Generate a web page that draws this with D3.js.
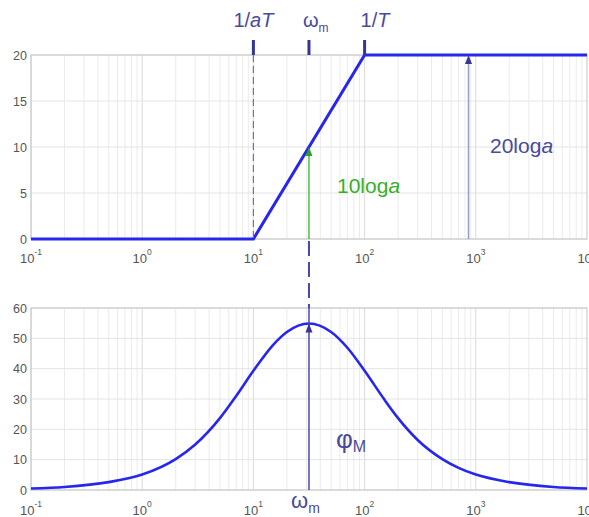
<!DOCTYPE html>
<html>
<head>
<meta charset="utf-8">
<script src="https://cdn.jsdelivr.net/npm/d3@7"></script>
<style>
  body { margin: 0; background: #fff; }
  svg { display: block; font-family: "Liberation Sans", Arial, sans-serif; }
</style>
</head>
<body>
<svg width="589" height="517"></svg>
<script>
// asymptotic magnitude of the lead network (dB)
var magFreq = [0.1, 10, 100, 10000];
var magDb   = [0, 0, 20, 20];

// phase curve (deg)
var phaseFreq = [0.1, 0.2, 0.5, 1, 2, 3, 5, 7, 10, 15, 20, 31.6, 50, 70, 100, 150, 200, 300, 500, 700, 1000, 2000, 5000, 10000];
var phaseDeg  = [0.5, 1.0, 2.6, 5.1, 10.2, 15.0, 23.7, 31.0, 39.3, 47.8, 52.1, 54.9, 52.1, 46.9, 39.3, 29.9, 23.7, 16.5, 10.2, 7.3, 5.1, 2.6, 1.0, 0.5];

var decades = [-1, 0, 1, 2, 3, 4];
var magTicks = [0, 5, 10, 15, 20];
var phaseTicks = [0, 10, 20, 30, 40, 50, 60];

// marked frequencies
var wLow = 10, wMax = 31.6, wHigh = 100, wArrow = 860;
var phaseMax = 54.9, halfGain = 10, fullGain = 20;

var svg = d3.select("svg");
var x = d3.scaleLog().domain([0.1, 10000]).range([31, 587]);
var yTop = d3.scaleLinear().domain([0, 20]).range([239, 55]);
var yBot = d3.scaleLinear().domain([0, 60]).range([490, 308]);

var blue = "#2626ec", navy = "#34349a", label = "#4a4a9c", green = "#36b02a";

function panel(y, ticks, labelY) {
  var g = svg.append("g");
  // minor + decade grid
  var minor = [];
  for (var d = -1; d < 4; d++)
    for (var k = 1; k < 10; k++) minor.push(k * Math.pow(10, d));
  g.selectAll(".vg").data(minor).enter().append("line")
    .attr("x1", function(v) { return x(v); }).attr("x2", function(v) { return x(v); })
    .attr("y1", y.range()[0]).attr("y2", y.range()[1])
    .attr("stroke", function(v, i) { return i % 9 == 0 ? "#dadada" : "#ebebeb"; })
    .attr("stroke-width", 1);
  g.selectAll(".hg").data(ticks).enter().append("line")
    .attr("x1", x.range()[0]).attr("x2", x.range()[1])
    .attr("y1", function(v) { return y(v); }).attr("y2", function(v) { return y(v); })
    .attr("stroke", "#e4e4e4");
  g.append("rect")
    .attr("x", x.range()[0]).attr("y", y.range()[1])
    .attr("width", x.range()[1] - x.range()[0]).attr("height", y.range()[0] - y.range()[1])
    .attr("fill", "none").attr("stroke", "#c4c4c4");
  // y labels
  g.selectAll(".yl").data(ticks).enter().append("text")
    .attr("x", 27).attr("y", function(v) { return y(v) + 4.5; })
    .attr("text-anchor", "end").attr("font-size", 12.5).attr("fill", "#555")
    .text(function(v) { return v; });
  // x labels 10^n
  var xl = g.selectAll(".xl").data(decades).enter().append("text")
    .attr("x", function(n) { return x(Math.pow(10, n)); })
    .attr("y", labelY).attr("text-anchor", "middle").attr("fill", "#555");
  xl.append("tspan").attr("font-size", 13).text("10");
  xl.append("tspan").attr("font-size", 8.5).attr("dy", -8)
    .text(function(n) { return n; });
  return g;
}

function arrowHead(px, py, color, w, h) {
  svg.append("path")
    .attr("d", "M" + px + "," + py + "L" + (px - w / 2) + "," + (py + h) + "L" + (px + w / 2) + "," + (py + h) + "Z")
    .attr("fill", color);
}

panel(yTop, magTicks, 263);
panel(yBot, phaseTicks, 515);

// magnitude asymptotes
svg.append("path")
  .datum(magFreq.map(function(f, i) { return [f, magDb[i]]; }))
  .attr("fill", "none").attr("stroke", blue).attr("stroke-width", 3)
  .attr("d", d3.line().x(function(d) { return x(d[0]); }).y(function(d) { return yTop(d[1]); }));

// dashed line at 1/aT
svg.append("line")
  .attr("x1", x(wLow)).attr("x2", x(wLow)).attr("y1", yTop(20)).attr("y2", yTop(0))
  .attr("stroke", "#6e6eb0").attr("stroke-width", 1.2).attr("stroke-dasharray", "7,4");

// corner marks above the top plot
[wLow, wMax, wHigh].forEach(function(f) {
  svg.append("line")
    .attr("x1", x(f)).attr("x2", x(f)).attr("y1", 40).attr("y2", yTop(20))
    .attr("stroke", navy).attr("stroke-width", 3);
});

// 10loga arrow (green)
svg.append("line")
  .attr("x1", x(wMax)).attr("x2", x(wMax)).attr("y1", yTop(0)).attr("y2", yTop(halfGain) + 6)
  .attr("stroke", green).attr("stroke-width", 1.3);
arrowHead(x(wMax), yTop(halfGain), "#2ea02a", 7, 9);

// 20loga arrow
svg.append("line")
  .attr("x1", x(wArrow)).attr("x2", x(wArrow)).attr("y1", yTop(0)).attr("y2", yTop(fullGain) + 6)
  .attr("stroke", "#9c9ccc").attr("stroke-width", 1.6);
arrowHead(x(wArrow), yTop(fullGain), navy, 7, 9);

// dashed link between plots at wm
svg.append("line")
  .attr("x1", x(wMax)).attr("x2", x(wMax)).attr("y1", yTop(0) + 2).attr("y2", yBot(60))
  .attr("stroke", "#4848a6").attr("stroke-width", 2).attr("stroke-dasharray", "15,6");

// phase curve
svg.append("path")
  .datum(phaseFreq.map(function(f, i) { return [f, phaseDeg[i]]; }))
  .attr("fill", "none").attr("stroke", blue).attr("stroke-width", 2.6)
  .attr("d", d3.line().curve(d3.curveMonotoneX)
    .x(function(d) { return x(d[0]); }).y(function(d) { return yBot(d[1]); }));

// phi_M arrow
svg.append("line")
  .attr("x1", x(wMax)).attr("x2", x(wMax)).attr("y1", yBot(0)).attr("y2", yBot(60))
  .attr("stroke", "#4a4aa6").attr("stroke-width", 1.5);
arrowHead(x(wMax), yBot(phaseMax), navy, 7, 9);

// annotations
var t1 = svg.append("text").attr("x", x(wLow)).attr("y", 27).attr("text-anchor", "middle")
  .attr("font-size", 20).attr("fill", label);
t1.append("tspan").text("1/");
t1.append("tspan").attr("font-style", "italic").text("aT");

var t2 = svg.append("text").attr("x", x(wMax) - 6).attr("y", 27).attr("font-size", 20).attr("fill", label);
t2.append("tspan").text("ω");
t2.append("tspan").attr("font-size", 12).attr("dy", 5).text("m");

var t3 = svg.append("text").attr("x", x(wHigh) - 4).attr("y", 27).attr("font-size", 20).attr("fill", label);
t3.append("tspan").text("1/");
t3.append("tspan").attr("font-style", "italic").text("T");

var t4 = svg.append("text").attr("x", 337).attr("y", 193).attr("font-size", 21).attr("fill", green);
t4.append("tspan").text("10log");
t4.append("tspan").attr("font-style", "italic").text("a");

var t5 = svg.append("text").attr("x", 490).attr("y", 153).attr("font-size", 21).attr("fill", label);
t5.append("tspan").text("20log");
t5.append("tspan").attr("font-style", "italic").text("a");

var t6 = svg.append("text").attr("x", 336).attr("y", 448).attr("font-size", 26).attr("fill", label);
t6.append("tspan").text("φ");
t6.append("tspan").attr("font-size", 16).attr("dy", 4).text("M");

var t7 = svg.append("text").attr("x", x(wMax) - 18).attr("y", 508).attr("font-size", 22).attr("fill", label);
t7.append("tspan").text("ω");
t7.append("tspan").attr("font-size", 14).attr("dy", 5).text("m");
</script>
</body>
</html>
